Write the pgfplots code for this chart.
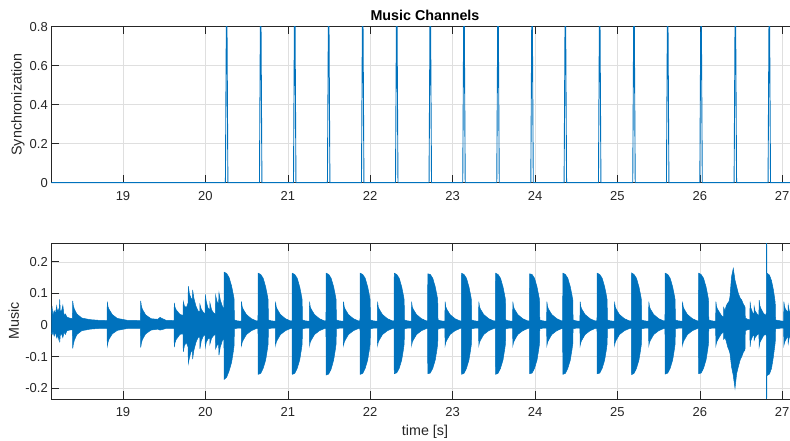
\documentclass[border=0pt]{standalone}
\usepackage{fontspec}
\setmainfont{Liberation Sans}
\usepackage{pgfplots}
\usepackage{pgfplotstable}
\pgfplotsset{compat=1.18}
\usepgfplotslibrary{fillbetween}
\definecolor{mblue}{RGB}{0,114,189}
\definecolor{axc}{RGB}{38,38,38}
\definecolor{gridc}{RGB}{223,223,223}

\pgfplotstableread[row sep=\\]{
t s\\
18.130 0\\
20.243 0\\ 20.254 0.8\\ 20.262 0.8\\ 20.273 0\\
20.656 0\\ 20.667 0.8\\ 20.675 0.8\\ 20.686 0\\
21.069 0\\ 21.080 0.8\\ 21.088 0.8\\ 21.099 0\\
21.481 0\\ 21.492 0.8\\ 21.500 0.8\\ 21.511 0\\
21.894 0\\ 21.905 0.8\\ 21.913 0.8\\ 21.924 0\\
22.307 0\\ 22.318 0.8\\ 22.326 0.8\\ 22.337 0\\
22.714 0\\ 22.725 0.8\\ 22.733 0.8\\ 22.744 0\\
23.123 0\\ 23.134 0.8\\ 23.142 0.8\\ 23.153 0\\
23.536 0\\ 23.547 0.8\\ 23.555 0.8\\ 23.566 0\\
23.949 0\\ 23.960 0.8\\ 23.968 0.8\\ 23.979 0\\
24.353 0\\ 24.364 0.8\\ 24.372 0.8\\ 24.383 0\\
24.770 0\\ 24.781 0.8\\ 24.789 0.8\\ 24.800 0\\
25.186 0\\ 25.197 0.8\\ 25.205 0.8\\ 25.216 0\\
25.595 0\\ 25.606 0.8\\ 25.614 0.8\\ 25.625 0\\
26.000 0\\ 26.011 0.8\\ 26.019 0.8\\ 26.030 0\\
26.416 0\\ 26.427 0.8\\ 26.435 0.8\\ 26.446 0\\
26.828 0\\ 26.839 0.8\\ 26.847 0.8\\ 26.858 0\\
27.200 0\\
}\sync

\pgfplotstableread[row sep=\\]{
t up lo\\
18.130 0.040 -0.025\\ 18.140 0.055 -0.030\\ 18.150 0.030 -0.020\\ 18.165 0.045 -0.035\\
18.180 0.035 -0.022\\ 18.195 0.060 -0.040\\ 18.205 0.040 -0.030\\ 18.215 0.050 -0.045\\
18.225 0.035 -0.025\\ 18.232 0.081 -0.055\\ 18.240 0.040 -0.030\\ 18.255 0.045 -0.028\\
18.270 0.062 -0.040\\ 18.285 0.030 -0.022\\ 18.300 0.035 -0.030\\ 18.320 0.025 -0.018\\
18.350 0.022 -0.016\\ 18.386 0.020 -0.015\\ 18.390 0.076 -0.074\\ 18.398 0.060 -0.060\\
18.410 0.050 -0.048\\ 18.440 0.035 -0.030\\ 18.500 0.022 -0.018\\ 18.600 0.017 -0.013\\
18.700 0.015 -0.011\\ 18.806 0.014 -0.011\\ 18.810 0.074 -0.066\\ 18.818 0.058 -0.055\\
18.830 0.050 -0.045\\ 18.870 0.033 -0.028\\ 18.930 0.021 -0.017\\ 19.050 0.015 -0.011\\
19.211 0.014 -0.011\\ 19.215 0.076 -0.071\\ 19.223 0.060 -0.058\\ 19.235 0.050 -0.046\\
19.275 0.032 -0.028\\ 19.340 0.020 -0.016\\ 19.420 0.018 -0.013\\ 19.450 0.024 -0.016\\
19.480 0.020 -0.014\\ 19.520 0.015 -0.011\\ 19.619 0.014 -0.011\\ 19.623 0.070 -0.070\\
19.632 0.055 -0.055\\ 19.645 0.048 -0.046\\ 19.690 0.034 -0.030\\ 19.728 0.030 -0.027\\
19.732 0.074 -0.085\\ 19.745 0.060 -0.065\\ 19.770 0.055 -0.055\\ 19.790 0.070 -0.070\\
19.793 0.123 -0.121\\ 19.805 0.100 -0.105\\ 19.825 0.085 -0.085\\ 19.842 0.080 -0.080\\
19.845 0.111 -0.108\\ 19.860 0.085 -0.080\\ 19.885 0.060 -0.055\\ 19.910 0.045 -0.040\\
19.931 0.040 -0.035\\ 19.934 0.065 -0.075\\ 19.950 0.050 -0.050\\ 19.975 0.040 -0.035\\
19.996 0.035 -0.030\\ 19.999 0.097 -0.070\\ 20.010 0.075 -0.055\\ 20.030 0.055 -0.045\\
20.052 0.045 -0.038\\ 20.055 0.070 -0.060\\ 20.075 0.048 -0.042\\ 20.100 0.038 -0.033\\
20.121 0.035 -0.030\\ 20.124 0.094 -0.075\\ 20.140 0.075 -0.065\\ 20.160 0.065 -0.058\\
20.165 0.102 -0.095\\ 20.180 0.080 -0.070\\ 20.205 0.060 -0.050\\ 20.225 0.048 -0.040\\
20.228 0.167 -0.172\\ 20.258 0.163 -0.165\\ 20.288 0.150 -0.145\\ 20.318 0.123 -0.118\\
20.338 0.097 -0.085\\ 20.348 0.082 -0.065\\ 20.352 0.016 -0.012\\ 20.388 0.013 -0.010\\
20.435 0.012 -0.010\\ 20.438 0.074 -0.065\\ 20.446 0.058 -0.055\\ 20.458 0.050 -0.048\\
20.498 0.033 -0.030\\ 20.558 0.020 -0.018\\ 20.618 0.013 -0.011\\
20.638 0.013 -0.010\\ 20.641 0.164 -0.156\\ 20.671 0.160 -0.153\\ 20.701 0.148 -0.137\\
20.731 0.121 -0.111\\ 20.751 0.095 -0.079\\ 20.761 0.080 -0.060\\ 20.765 0.016 -0.012\\
20.801 0.013 -0.010\\ 20.848 0.012 -0.010\\ 20.851 0.074 -0.065\\ 20.859 0.058 -0.055\\
20.871 0.050 -0.048\\ 20.911 0.033 -0.030\\ 20.971 0.020 -0.018\\ 21.031 0.013 -0.011\\
21.051 0.013 -0.010\\ 21.054 0.164 -0.156\\ 21.084 0.160 -0.153\\ 21.114 0.148 -0.137\\
21.144 0.121 -0.111\\ 21.164 0.095 -0.079\\ 21.174 0.080 -0.060\\ 21.178 0.016 -0.012\\
21.214 0.013 -0.010\\ 21.261 0.012 -0.010\\ 21.264 0.074 -0.065\\ 21.272 0.058 -0.055\\
21.284 0.050 -0.048\\ 21.324 0.033 -0.030\\ 21.384 0.020 -0.018\\ 21.444 0.013 -0.011\\
21.463 0.013 -0.010\\ 21.466 0.164 -0.158\\ 21.496 0.160 -0.155\\ 21.526 0.148 -0.139\\
21.556 0.121 -0.111\\ 21.576 0.095 -0.079\\ 21.586 0.080 -0.060\\ 21.590 0.016 -0.012\\
21.626 0.013 -0.010\\ 21.673 0.012 -0.010\\ 21.676 0.074 -0.065\\ 21.684 0.058 -0.055\\
21.696 0.050 -0.048\\ 21.736 0.033 -0.030\\ 21.796 0.020 -0.018\\ 21.856 0.013 -0.011\\
21.876 0.013 -0.010\\ 21.879 0.164 -0.156\\ 21.909 0.160 -0.153\\ 21.939 0.148 -0.137\\
21.969 0.121 -0.111\\ 21.989 0.095 -0.079\\ 21.999 0.080 -0.060\\ 22.003 0.016 -0.012\\
22.039 0.013 -0.010\\ 22.086 0.012 -0.010\\ 22.089 0.074 -0.065\\ 22.097 0.058 -0.055\\
22.109 0.050 -0.048\\ 22.149 0.033 -0.030\\ 22.209 0.020 -0.018\\ 22.269 0.013 -0.011\\
22.289 0.013 -0.010\\ 22.292 0.164 -0.154\\ 22.322 0.160 -0.151\\ 22.352 0.148 -0.137\\
22.382 0.121 -0.111\\ 22.402 0.095 -0.079\\ 22.412 0.080 -0.060\\ 22.416 0.016 -0.012\\
22.452 0.013 -0.010\\ 22.499 0.012 -0.010\\ 22.502 0.074 -0.065\\ 22.510 0.058 -0.055\\
22.522 0.050 -0.048\\ 22.562 0.033 -0.030\\ 22.622 0.020 -0.018\\ 22.682 0.013 -0.011\\
22.696 0.013 -0.010\\ 22.699 0.162 -0.154\\ 22.729 0.160 -0.152\\ 22.759 0.148 -0.137\\
22.789 0.121 -0.111\\ 22.809 0.095 -0.079\\ 22.819 0.080 -0.060\\ 22.823 0.016 -0.012\\
22.859 0.013 -0.010\\ 22.906 0.012 -0.010\\ 22.909 0.074 -0.065\\ 22.917 0.058 -0.055\\
22.929 0.050 -0.048\\ 22.969 0.033 -0.030\\ 23.029 0.020 -0.018\\ 23.089 0.013 -0.011\\
23.105 0.013 -0.010\\ 23.108 0.164 -0.156\\ 23.138 0.160 -0.153\\ 23.168 0.148 -0.137\\
23.198 0.121 -0.111\\ 23.218 0.095 -0.079\\ 23.228 0.080 -0.060\\ 23.232 0.016 -0.012\\
23.268 0.013 -0.010\\ 23.315 0.012 -0.010\\ 23.318 0.074 -0.065\\ 23.326 0.058 -0.055\\
23.338 0.050 -0.048\\ 23.378 0.033 -0.030\\ 23.438 0.020 -0.018\\ 23.498 0.013 -0.011\\
23.518 0.013 -0.010\\ 23.521 0.164 -0.156\\ 23.551 0.160 -0.153\\ 23.581 0.148 -0.137\\
23.611 0.121 -0.111\\ 23.631 0.095 -0.079\\ 23.641 0.080 -0.060\\ 23.645 0.016 -0.012\\
23.681 0.013 -0.010\\ 23.728 0.012 -0.010\\ 23.731 0.074 -0.065\\ 23.739 0.058 -0.055\\
23.751 0.050 -0.048\\ 23.791 0.033 -0.030\\ 23.851 0.020 -0.018\\ 23.911 0.013 -0.011\\
23.931 0.013 -0.010\\ 23.934 0.162 -0.154\\ 23.964 0.160 -0.152\\ 23.994 0.148 -0.137\\
24.024 0.121 -0.111\\ 24.044 0.095 -0.079\\ 24.054 0.080 -0.060\\ 24.058 0.016 -0.012\\
24.094 0.013 -0.010\\ 24.141 0.012 -0.010\\ 24.144 0.074 -0.065\\ 24.152 0.058 -0.055\\
24.164 0.050 -0.048\\ 24.204 0.033 -0.030\\ 24.264 0.020 -0.018\\ 24.324 0.013 -0.011\\
24.335 0.013 -0.010\\ 24.338 0.164 -0.156\\ 24.368 0.160 -0.153\\ 24.398 0.148 -0.137\\
24.428 0.121 -0.111\\ 24.448 0.095 -0.079\\ 24.458 0.080 -0.060\\ 24.462 0.016 -0.012\\
24.498 0.013 -0.010\\ 24.545 0.012 -0.010\\ 24.548 0.074 -0.065\\ 24.556 0.058 -0.055\\
24.568 0.050 -0.048\\ 24.608 0.033 -0.030\\ 24.668 0.020 -0.018\\ 24.728 0.013 -0.011\\
24.752 0.013 -0.010\\ 24.755 0.164 -0.154\\ 24.785 0.160 -0.152\\ 24.815 0.148 -0.137\\
24.845 0.121 -0.111\\ 24.865 0.095 -0.079\\ 24.875 0.080 -0.060\\ 24.879 0.016 -0.012\\
24.915 0.013 -0.010\\ 24.962 0.012 -0.010\\ 24.965 0.074 -0.065\\ 24.973 0.058 -0.055\\
24.985 0.050 -0.048\\ 25.025 0.033 -0.030\\ 25.085 0.020 -0.018\\ 25.145 0.013 -0.011\\
25.168 0.013 -0.010\\ 25.171 0.165 -0.157\\ 25.201 0.160 -0.153\\ 25.231 0.148 -0.137\\
25.261 0.121 -0.111\\ 25.281 0.095 -0.079\\ 25.291 0.080 -0.060\\ 25.295 0.016 -0.012\\
25.331 0.013 -0.010\\ 25.378 0.012 -0.010\\ 25.381 0.074 -0.065\\ 25.389 0.058 -0.055\\
25.401 0.050 -0.048\\ 25.441 0.033 -0.030\\ 25.501 0.020 -0.018\\ 25.561 0.013 -0.011\\
25.577 0.013 -0.010\\ 25.580 0.164 -0.155\\ 25.610 0.160 -0.152\\ 25.640 0.148 -0.137\\
25.670 0.121 -0.111\\ 25.690 0.095 -0.079\\ 25.700 0.080 -0.060\\ 25.704 0.016 -0.012\\
25.740 0.013 -0.010\\ 25.787 0.012 -0.010\\ 25.790 0.074 -0.065\\ 25.798 0.058 -0.055\\
25.810 0.050 -0.048\\ 25.850 0.033 -0.030\\ 25.910 0.020 -0.018\\ 25.970 0.013 -0.011\\
25.982 0.013 -0.010\\ 25.985 0.164 -0.154\\ 26.015 0.160 -0.152\\ 26.045 0.148 -0.137\\
26.075 0.121 -0.111\\ 26.095 0.095 -0.079\\ 26.105 0.080 -0.060\\ 26.109 0.016 -0.012\\
26.145 0.013 -0.010\\ 26.192 0.012 -0.010\\ 26.195 0.074 -0.065\\ 26.203 0.058 -0.055\\
26.215 0.050 -0.048\\ 26.255 0.033 -0.030\\
26.270 0.028 -0.026\\ 26.287 0.025 -0.022\\ 26.290 0.055 -0.045\\ 26.305 0.045 -0.040\\
26.320 0.060 -0.050\\ 26.338 0.069 -0.069\\ 26.355 0.075 -0.080\\ 26.366 0.090 -0.090\\
26.385 0.153 -0.132\\ 26.406 0.179 -0.160\\ 26.427 0.142 -0.200\\ 26.447 0.121 -0.153\\
26.467 0.100 -0.132\\ 26.490 0.085 -0.110\\ 26.508 0.079 -0.100\\ 26.530 0.065 -0.085\\
26.548 0.058 -0.079\\ 26.552 0.022 -0.018\\ 26.580 0.018 -0.015\\ 26.607 0.016 -0.013\\
26.610 0.074 -0.069\\ 26.618 0.055 -0.050\\ 26.640 0.040 -0.036\\ 26.657 0.033 -0.030\\
26.660 0.058 -0.048\\ 26.670 0.045 -0.040\\ 26.700 0.033 -0.030\\ 26.717 0.030 -0.027\\
26.720 0.079 -0.069\\ 26.730 0.060 -0.055\\ 26.745 0.050 -0.047\\ 26.775 0.036 -0.033\\
26.806 0.030 -0.028\\ 26.809 0.2585 -0.234\\ 26.812 0.2585 -0.234\\ 26.815 0.164 -0.160\\
26.845 0.158 -0.155\\ 26.870 0.140 -0.137\\ 26.890 0.115 -0.105\\ 26.905 0.090 -0.075\\
26.915 0.070 -0.055\\ 26.919 0.016 -0.012\\ 26.980 0.013 -0.010\\ 27.017 0.012 -0.010\\
27.020 0.074 -0.065\\ 27.028 0.058 -0.055\\ 27.040 0.050 -0.048\\ 27.070 0.040 -0.035\\
27.073 0.063 -0.058\\ 27.085 0.045 -0.040\\ 27.120 0.030 -0.027\\ 27.180 0.020 -0.018\\
27.200 0.018 -0.016\\
}\music

\pgfplotsset{
  mstyle/.style={
    scale only axis, width=747.4pt,
    xmin=18.13, xmax=27.2,
    xtick={19,20,21,22,23,24,25,26,27},
    xmajorgrids, ymajorgrids,
    grid style={draw=gridc, line width=0.5pt},
    axis line style={draw=axc, line width=0.6pt},
    tick align=inside, major tick length=7.5pt,
    tick style={draw=axc, line width=0.6pt},
    ticklabel style={font=\fontsize{13}{13}\selectfont, text=axc},
    xticklabel style={yshift=-4.7pt},
    /pgf/number format/assume math mode=true,
    label style={font=\fontsize{14.3}{14.3}\selectfont, text=axc},
  }
}

\begin{document}
\begin{tikzpicture}
\begin{axis}[mstyle,
  at={(51.3pt,258.3pt)}, anchor=south west, height=156pt,
  ymin=0, ymax=0.8, ytick={0,0.2,0.4,0.6,0.8},
  clip=false,
  title={Music Channels},
  title style={at={(axis description cs:0.5,1.035)}, anchor=center,
    font=\bfseries\fontsize{14.3}{14.3}\selectfont, text=black},
  ylabel={Synchronization},
  ylabel style={at={(axis description cs:-0.0446,0.5)}, anchor=center},
]
\addplot[draw=mblue, line width=0.9pt] table[x=t, y=s]{\sync};
\end{axis}

\begin{axis}[mstyle,
  at={(51.3pt,42pt)}, anchor=south west, height=155.7pt,
  ymin=-0.234, ymax=0.2585, ytick={-0.2,-0.1,0,0.1,0.2},
  ylabel={Music},
  ylabel style={at={(axis description cs:-0.0502,0.5)}, anchor=center},
  xlabel={time [s]},
  xlabel style={at={(axis description cs:0.5,-0.2087)}, anchor=center},
]
\addplot[draw=mblue, line width=0.5pt, name path=U] table[x=t, y=up]{\music};
\addplot[draw=mblue, line width=0.5pt, name path=L] table[x=t, y=lo]{\music};
\addplot[fill=mblue, draw=none] fill between[of=U and L];
\end{axis}
\pgfresetboundingbox
\useasboundingbox (0,0) rectangle (790pt,441pt);
\end{tikzpicture}
\end{document}
